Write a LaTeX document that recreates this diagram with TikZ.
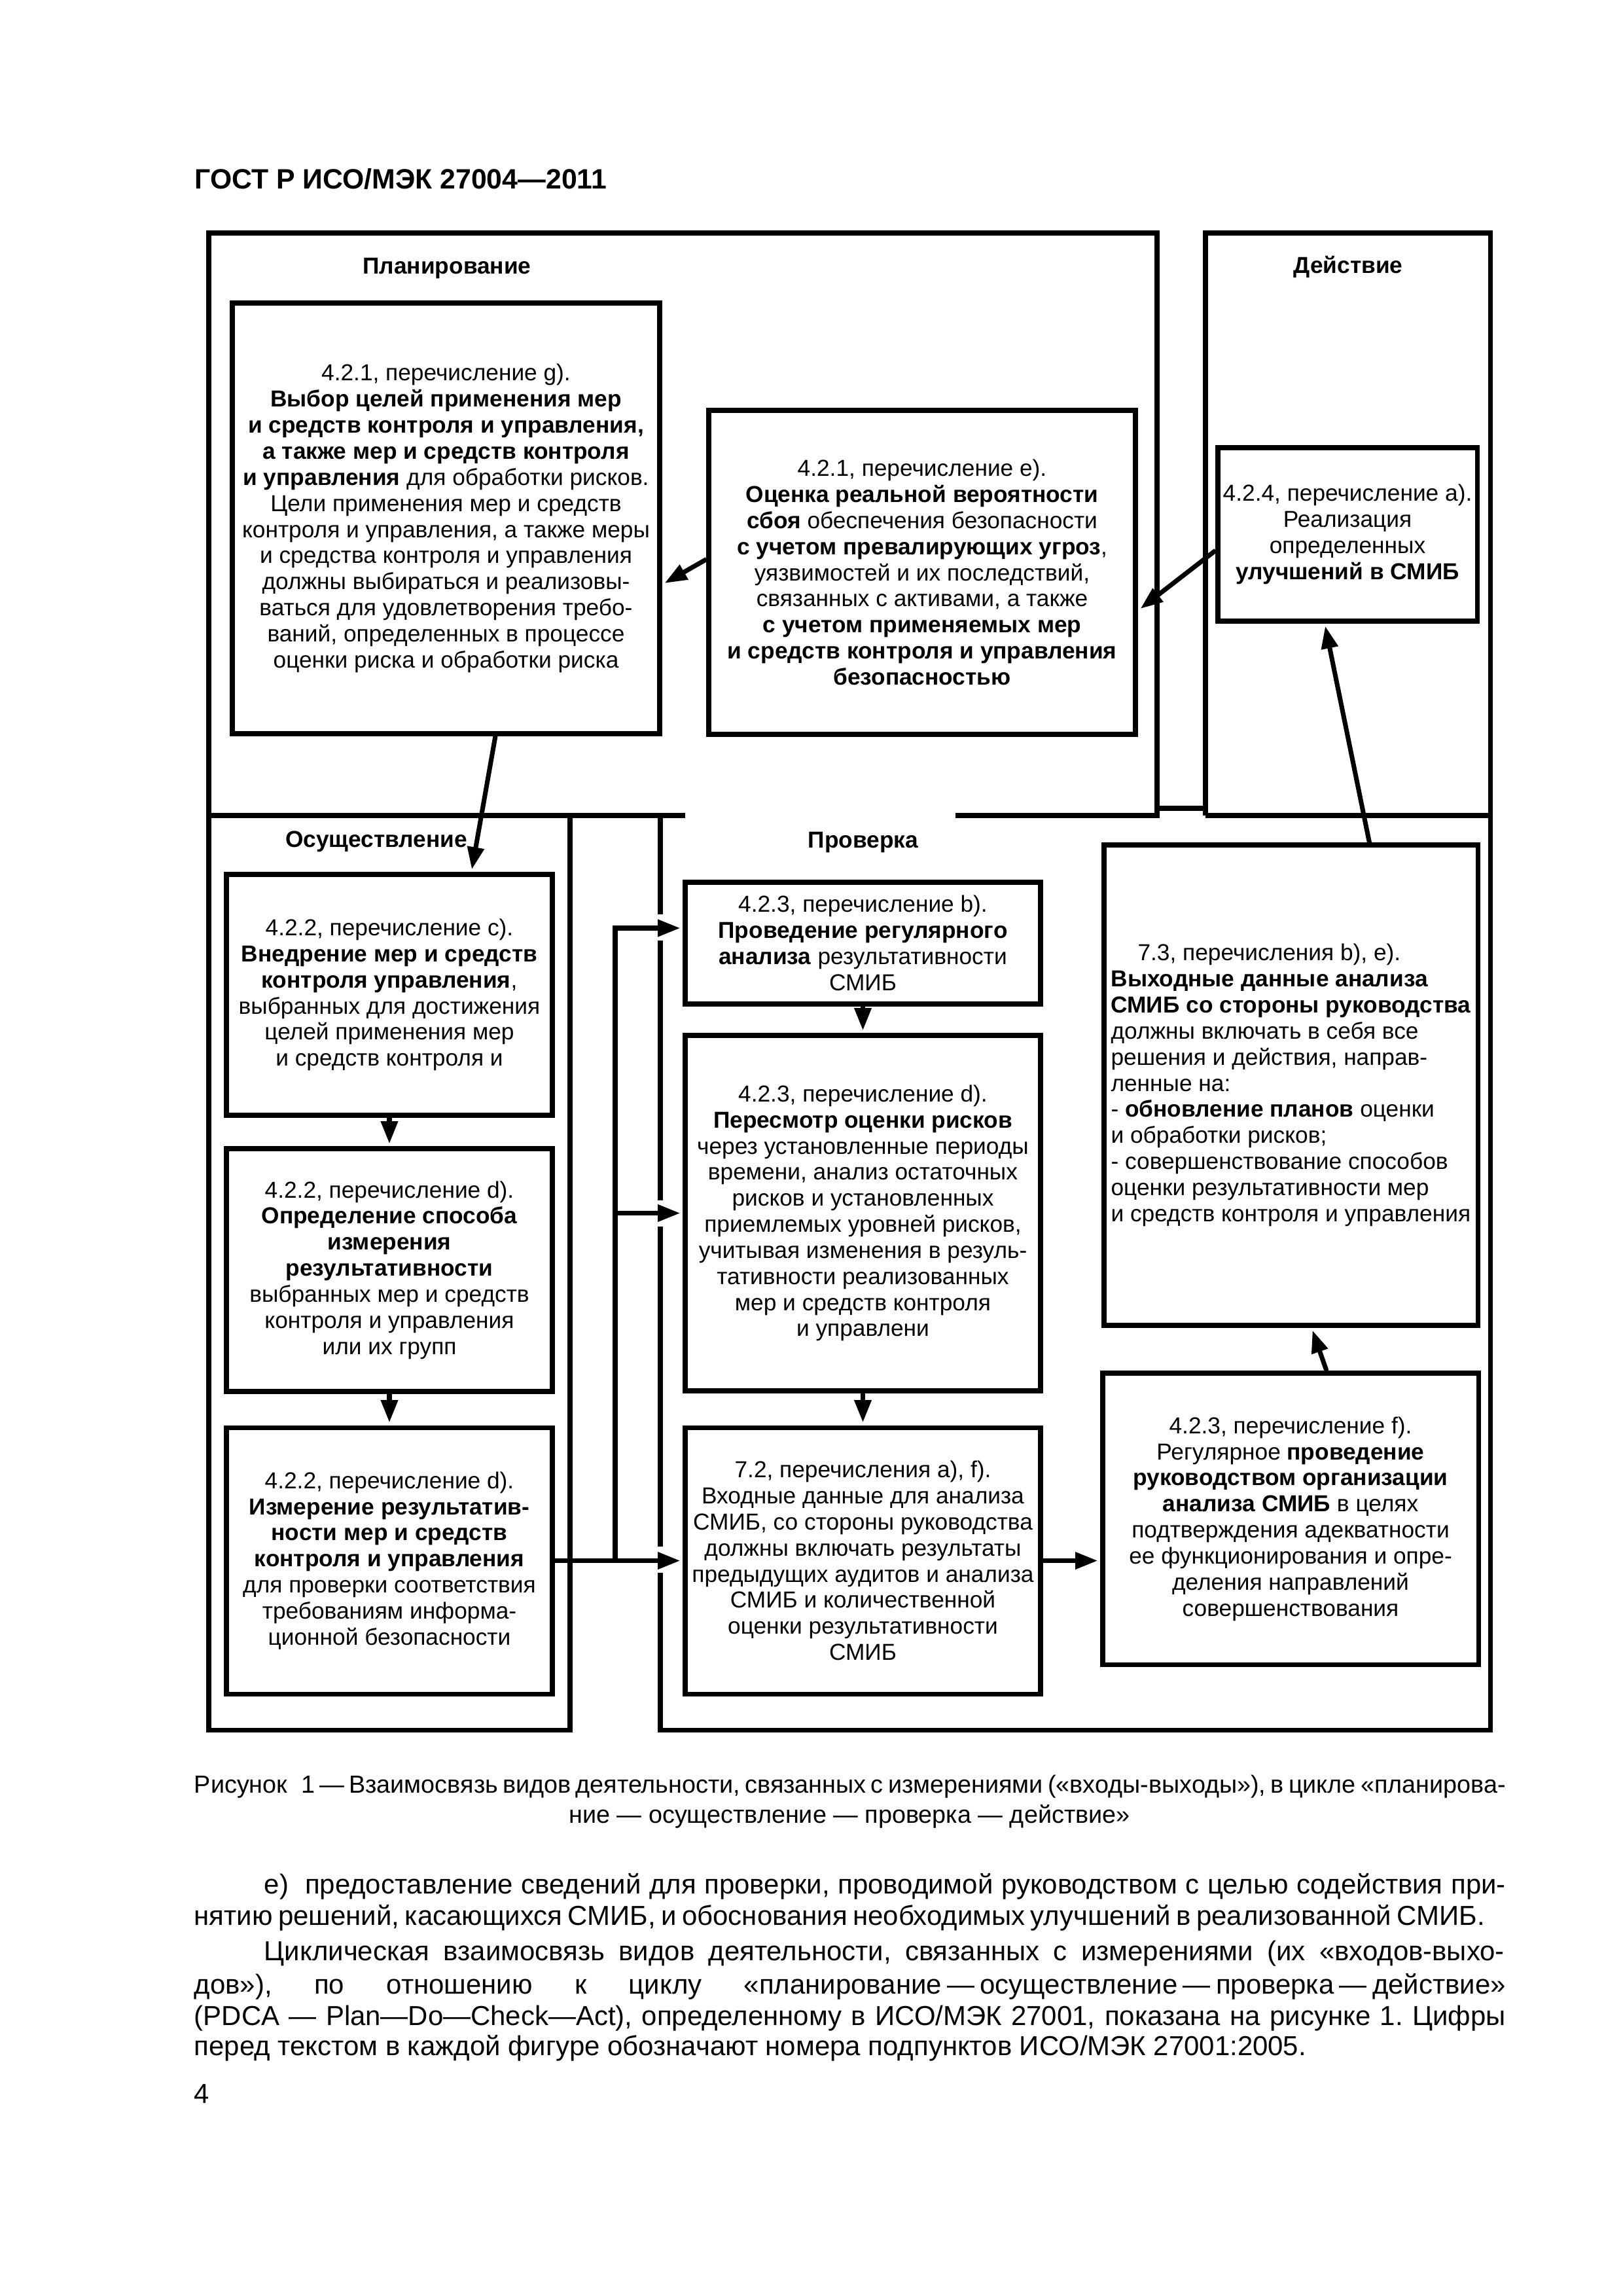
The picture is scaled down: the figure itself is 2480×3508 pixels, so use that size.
\documentclass[tikz,border=0pt]{standalone}
\usepackage{fontspec}
\setmainfont{Liberation Sans}
\usetikzlibrary{arrows.meta,calc}
\newdimen\px \px=0.0846774mm
\newcommand\bxf{\fontsize{8.5}{9.6}\selectfont}
\newcommand\fsp{\hbox{\ }}
\frenchspacing
\begin{document}
\begin{tikzpicture}[x=0.0846774mm,y=-0.0846774mm,
  frame/.style={line width=1.7pt},
  box/.style={draw,line width=1.7pt,align=center,inner sep=0pt,font=\bxf},
  lbl/.style={font=\bxf\bfseries,inner sep=0pt},
  arr/.style={line width=1.7pt,-{Triangle[length=2.9mm,width=2.1mm]}},
  ln/.style={line width=1.7pt},
  txt/.style={anchor=base west,inner sep=0pt,font=\fontsize{10.1}{11.8}\selectfont},
  captxt/.style={anchor=base west,inner sep=0pt,font=\fontsize{9.1}{10.8}\selectfont}]
\fill[white] (0,0) rectangle (2480,3508);
\useasboundingbox (0,0) rectangle (2480,3508);

\node[anchor=base west,inner sep=0pt,font=\fontsize{10.3}{12}\selectfont\bfseries] (hdr) at (297,288) {ГОСТ Р ИСО/МЭК 27004—2011};

% frames
\draw[frame] (1047,1246) -- (319,1246) -- (319,356) -- (1768,356) -- (1768,1246) -- (1460,1246);
\draw[frame] (319,1246) -- (319,2643) -- (871,2643) -- (871,1246);
\draw[frame] (1842,1246) -- (1842,356) -- (2277,356) -- (2277,2643) -- (1009,2643) -- (1009,2403);
\draw[frame] (1842,1246) -- (2277,1246);
\draw[frame] (1009,2363) -- (1009,1874);
\draw[frame] (1009,1834) -- (1009,1437);
\draw[frame] (1009,1397) -- (1009,1246);
\draw[frame] (1768,1235) -- (1842,1235);

% labels
\node[lbl] (lplan) at (683,410) {Планирование};
\node[lbl] (lact) at (2060,408) {Действие};
\node[lbl] (losu) at (575,1286) {Осуществление};
\node[lbl] (lpro) at (1319,1287) {Проверка};

% boxes
\node[box,minimum width=653*\px,minimum height=658*\px] (g) at (681.5,792) {4.2.1, перечисление g).\\
\textbf{Выбор целей применения мер}\\
\textbf{и средств контроля и управления,}\\
\textbf{а также мер и средств контроля}\\
\textbf{и управления} для обработки рисков.\\
Цели применения мер и средств\\
контроля и управления, а также меры\\
и средства контроля и управления\\
должны выбираться и реализовы-\\
ваться для удовлетворения требо-\\
ваний, определенных в процессе\\
оценки риска и обработки риска};

\node[box,minimum width=652*\px,minimum height=495*\px] (e) at (1409,874.5) {4.2.1, перечисление e).\\
\textbf{Оценка реальной вероятности}\\
\textbf{сбоя} обеспечения безопасности\\
\textbf{с учетом превалирующих угроз},\\
уязвимостей и их последствий,\\
связанных с активами, а также\\
\textbf{с учетом применяемых мер}\\
\textbf{и средств контроля и управления}\\
\textbf{безопасностью}};

\node[box,minimum width=396*\px,minimum height=265*\px] (act) at (2059,816.5) {4.2.4, перечисление a).\\
Реализация\\
определенных\\
\textbf{улучшений в СМИБ}};

\node[box,minimum width=498*\px,minimum height=368*\px] (c) at (595,1520) {4.2.2, перечисление c).\\
\textbf{Внедрение мер и средств}\\
\textbf{контроля управления},\\
выбранных для достижения\\
целей применения мер\\
и средств контроля и};

\node[box,minimum width=498*\px,minimum height=371*\px] (d1) at (595,1940.5) {4.2.2, перечисление d).\\
\textbf{Определение способа}\\
\textbf{измерения}\\
\textbf{результативности}\\
выбранных мер и средств\\
контроля и управления\\
или их групп};

\node[box,minimum width=498*\px,minimum height=407*\px] (d2) at (595,2384.5) {4.2.2, перечисление d).\\
\textbf{Измерение результатив-}\\
\textbf{ности мер и средств}\\
\textbf{контроля и управления}\\
для проверки соответствия\\
требованиям информа-\\
ционной безопасности};

\node[box,minimum width=543*\px,minimum height=186*\px] (b) at (1318.5,1441) {4.2.3, перечисление b).\\
\textbf{Проведение регулярного}\\
\textbf{анализа} результативности\\
СМИБ};

\node[box,minimum width=543*\px,minimum height=543*\px] (d) at (1318.5,1853.5) {4.2.3, перечисление d).\\
\textbf{Пересмотр оценки рисков}\\
через установленные периоды\\
времени, анализ остаточных\\
рисков и установленных\\
приемлемых уровней рисков,\\
учитывая изменения в резуль-\\
тативности реализованных\\
мер и средств контроля\\
и управлени};

\node[box,minimum width=543*\px,minimum height=407*\px] (s72) at (1318.5,2384.5) {7.2, перечисления a), f).\\
Входные данные для анализа\\
СМИБ, со стороны руководства\\
должны включать результаты\\
предыдущих аудитов и анализа\\
СМИБ и количественной\\
оценки результативности\\
СМИБ};

\node[box,align=left,minimum width=571*\px,minimum height=734*\px] (s73) at (1972.5,1658) {\hspace*{41\px}7.3, перечисления b), e).\\
\textbf{Выходные данные анализа}\\
\textbf{СМИБ со стороны руководства}\\
должны включать в себя все\\
решения и действия, направ-\\
ленные на:\\
- \textbf{обновление планов} оценки\\
и обработки рисков;\\
- совершенствование способов\\
оценки результативности мер\\
и средств контроля и управления};

\node[box,minimum width=574*\px,minimum height=445*\px] (f) at (1972,2320.5) {4.2.3, перечисление f).\\
Регулярное \textbf{проведение}\\
\textbf{руководством организации}\\
\textbf{анализа СМИБ} в целях\\
подтверждения адекватности\\
ее функционирования и опре-\\
деления направлений\\
совершенствования};

% connectors
\draw[arr] ($(e.west)+(0,-20)$) -- ($(g.east)+(4,99)$);
\draw[arr] ($(act.west)+(0,24.5)$) -- ($(e.east)+(4,55.5)$);
\draw[arr] ($(g.south)+(75.5,0)$) -- ($(c.north)+(126,-4)$);
\draw[arr] ($(s73.north)+(120,0)$) -- ($(act.south)+(-34,4)$);
\draw[arr] ($(f.north)+(55,0)$) -- ($(s73.south)+(33,4)$);
\draw[arr] (c.south) -- ($(d1.north)+(0,-4)$);
\draw[arr] (d1.south) -- ($(d2.north)+(0,-4)$);
\draw[arr] (b.south) -- ($(d.north)+(0,-4)$);
\draw[arr] (d.south) -- ($(s72.north)+(0,-4)$);
\draw[arr] (s72.east) -- ($(s72.east -| f.west)+(-4,0)$);
\coordinate (busb) at (940,2384.5);
\draw[arr] (d2.east) -- ($(s72.west)+(-4,0)$);
\draw[arr] (busb) |- ($(b.west)+(-4,-23)$);
\draw[arr] (busb |- d.west) -- ($(d.west)+(-4,0)$);

% caption
\node[captxt] (cap1) at (296,2739) {\spaceskip=.2em plus 2em minus .17em\makebox[2004\px][s]{Рисунок\hspace{5pt}1 — Взаимосвязь видов деятельности, связанных с измерениями («входы-выходы»), в цикле «планирова-}};
\node[captxt,anchor=base] (cap2) at (1298,2785) {ние — осуществление — проверка — действие»};

% body text
\node[txt] (t1) at (403,2893) {\spaceskip=.2em plus 2em minus .15em\makebox[1897\px][s]{е)\hspace{6pt}предоставление сведений для проверки, проводимой руководством с целью содействия при-}};
\node[txt] (t2) at (296,2941) {\spaceskip=.2em plus 2em minus .15em\makebox[1972\px][s]{нятию решений, касающихся СМИБ, и обоснования необходимых улучшений в реализованной СМИБ.}};
\node[txt] (t3) at (403,2995) {\spaceskip=.2em plus 2em minus .15em\makebox[1895\px][s]{Циклическая взаимосвязь видов деятельности, связанных с измерениями (их «входов-выхо-}};
\node[txt] (t4) at (296,3046) {\spaceskip=.2em plus 2em minus .15em\makebox[2004\px][s]{дов»), по отношению к циклу «планирование\fsp—\fsp осуществление\fsp—\fsp проверка\fsp—\fsp действие»}};
\node[txt] (t5) at (296,3094) {\spaceskip=.2em plus 2em minus .15em\makebox[2004\px][s]{(PDCA — Plan—Do—Check—Act), определенному в ИСО/МЭК 27001, показана на рисунке 1. Цифры}};
\node[txt] (t6) at (296,3140) {перед текстом в каждой фигуре обозначают номера подпунктов ИСО/МЭК 27001:2005.};
\node[txt] (pg) at (296,3213) {4};
\end{tikzpicture}
\end{document}
